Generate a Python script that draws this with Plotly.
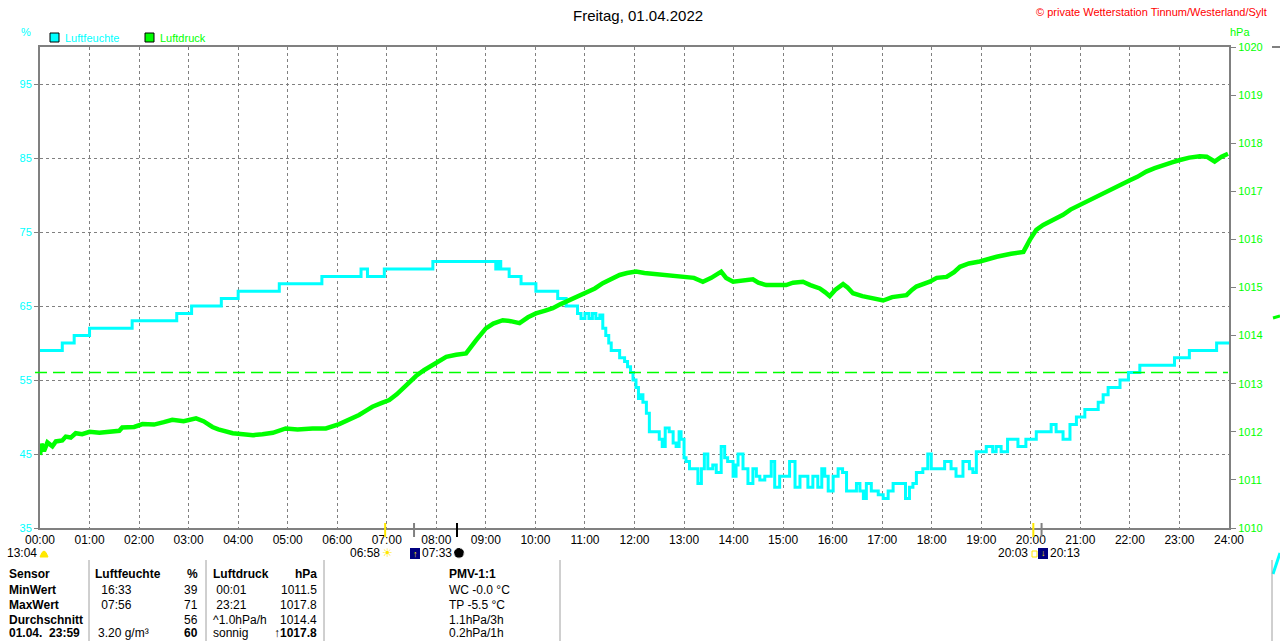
import plotly.graph_objects as go

# ---------------- data ----------------
hour_ticks = list(range(25))
hour_labels = [f"{h:02d}:00" for h in hour_ticks]

hum_ticks = [35, 45, 55, 65, 75, 85, 95]
pres_ticks = list(range(1010, 1021))

# relative humidity (%), step series
hum_t = [0.00, 0.45, 0.69, 1.00, 1.86, 2.76, 3.06, 3.66, 4.00, 4.83, 5.69, 6.48, 6.61, 6.95, 7.93,
         9.20, 9.25, 9.30, 9.47, 9.71, 10.01, 10.45, 10.62, 10.85, 10.92, 11.00, 11.08, 11.15, 11.22, 11.30,
         11.36, 11.42, 11.48, 11.53, 11.70, 11.80, 11.86, 11.92, 11.97, 12.03, 12.08, 12.12, 12.17, 12.24,
         12.30, 12.50, 12.56, 12.62, 12.70, 12.78, 12.84, 12.90, 12.94, 13.00, 13.04, 13.11, 13.18, 13.28,
         13.35, 13.41, 13.48, 13.58, 13.65, 13.75, 13.82, 13.88, 13.99, 14.05, 14.09, 14.19, 14.29, 14.39,
         14.46, 14.53, 14.63, 14.76, 14.83, 14.93, 15.03, 15.13, 15.24, 15.34, 15.44, 15.50, 15.60, 15.70,
         15.78, 15.84, 15.91, 16.01, 16.11, 16.20, 16.28, 16.48, 16.55, 16.62, 16.68, 16.78, 16.92, 17.02,
         17.12, 17.22, 17.39, 17.47, 17.55, 17.62, 17.69, 17.82, 17.92, 17.99, 18.16, 18.26, 18.39, 18.49,
         18.63, 18.76, 18.83, 18.90, 19.10, 19.23, 19.30, 19.40, 19.53, 19.74, 19.90, 20.11, 20.41, 20.51,
         20.65, 20.79, 20.92, 21.09, 21.36, 21.46, 21.56, 21.80, 21.97, 22.20, 22.90, 23.20, 23.75, 23.98, 24.0]
hum_v = [59, 60, 61, 62, 63, 64, 65, 66, 67, 68, 69, 70, 69, 70, 71,
         70, 71, 70, 69, 68, 67, 66, 65, 64, 63.3, 64, 63.3, 64, 63.3, 63.8,
         62, 61, 60, 59, 58, 57.5, 56.8, 56, 55, 54, 52.5, 53, 52, 50.5,
         48, 47, 46, 48.5, 48, 46.5, 46, 48, 47, 44.5, 44, 43, 43, 41,
         43, 45, 43, 43.5, 42.5, 46, 44.5, 44, 42, 43.5, 45, 43, 41, 43,
         42, 41.5, 42, 44, 40.5, 42, 42, 44, 40.5, 42, 42, 40.5, 42, 40.5,
         43, 42, 40, 42, 43, 42.5, 40, 41, 40, 39, 41, 40, 39.5, 39,
         40, 41, 41, 39, 40.5, 41, 42.5, 43, 45, 43, 43, 44, 43, 42,
         44, 43, 42.5, 45.3, 46, 45.3, 46, 45.3, 47, 46, 47, 48, 49, 48,
         47, 49, 50, 51, 52, 53, 54, 55, 56, 57, 58, 59, 60, 60, 60]

hum_avg = 56

# air pressure (hPa)
pres_t = [0.00, 0.03, 0.08, 0.15, 0.25, 0.32, 0.45, 0.52, 0.62, 0.72, 0.85, 1.00, 1.20, 1.40, 1.60, 1.66,
          1.90, 2.07, 2.30, 2.50, 2.67, 2.90, 3.15, 3.30, 3.48, 3.60, 3.89, 4.10, 4.30, 4.49, 4.70, 4.96,
          5.20, 5.50, 5.77, 6.04, 6.25, 6.44, 6.60, 6.71, 6.90, 7.05, 7.20, 7.32, 7.45, 7.59, 7.75, 7.86,
          8.00, 8.20, 8.40, 8.60, 8.80, 9.00, 9.15, 9.34, 9.50, 9.68, 9.85, 10.01, 10.20, 10.35, 10.50,
          10.69, 10.85, 11.02, 11.20, 11.36, 11.50, 11.70, 11.85, 12.03, 12.20, 12.37, 12.60, 12.80, 13.04,
          13.20, 13.38, 13.55, 13.75, 13.85, 13.99, 14.20, 14.39, 14.50, 14.66, 14.85, 15.06, 15.20, 15.40,
          15.55, 15.74, 15.85, 15.94, 16.05, 16.21, 16.30, 16.41, 16.60, 16.82, 17.02, 17.20, 17.49, 17.60,
          17.69, 17.96, 18.10, 18.30, 18.45, 18.57, 18.75, 18.97, 19.15, 19.31, 19.60, 19.85, 19.98, 20.11,
          20.25, 20.38, 20.50, 20.65, 20.80, 20.99, 21.15, 21.32, 21.50, 21.66, 21.85, 22.00, 22.15, 22.33,
          22.50, 22.67, 22.85, 23.01, 23.20, 23.41, 23.55, 23.71, 23.85, 23.98]
pres_v = [1011.52, 1011.75, 1011.60, 1011.78, 1011.70, 1011.80, 1011.82, 1011.90, 1011.88, 1011.97, 1011.95,
          1012.00, 1011.98, 1012.00, 1012.02, 1012.09, 1012.10, 1012.16, 1012.15, 1012.20, 1012.25, 1012.22,
          1012.28, 1012.22, 1012.10, 1012.05, 1011.97, 1011.95, 1011.93, 1011.95, 1011.98, 1012.07, 1012.05,
          1012.07, 1012.07, 1012.16, 1012.25, 1012.35, 1012.45, 1012.52, 1012.60, 1012.66, 1012.78, 1012.90,
          1013.02, 1013.16, 1013.28, 1013.35, 1013.45, 1013.56, 1013.60, 1013.63, 1013.90, 1014.15, 1014.25,
          1014.32, 1014.30, 1014.26, 1014.38, 1014.46, 1014.52, 1014.57, 1014.65, 1014.74, 1014.80, 1014.88,
          1014.98, 1015.09, 1015.17, 1015.26, 1015.30, 1015.33, 1015.30, 1015.28, 1015.25, 1015.24, 1015.22,
          1015.20, 1015.12, 1015.20, 1015.33, 1015.20, 1015.12, 1015.15, 1015.17, 1015.10, 1015.05, 1015.05,
          1015.05, 1015.10, 1015.12, 1015.05, 1014.98, 1014.90, 1014.82, 1014.95, 1015.07, 1015.00, 1014.88,
          1014.82, 1014.78, 1014.73, 1014.80, 1014.84, 1014.95, 1015.02, 1015.12, 1015.20, 1015.22, 1015.32,
          1015.43, 1015.50, 1015.54, 1015.60, 1015.64, 1015.70, 1015.74, 1015.99, 1016.20, 1016.30, 1016.37,
          1016.45, 1016.51, 1016.62, 1016.72, 1016.80, 1016.89, 1016.98, 1017.06, 1017.15, 1017.23, 1017.30,
          1017.41, 1017.48, 1017.55, 1017.60, 1017.65, 1017.70, 1017.73, 1017.72, 1017.62, 1017.72, 1017.78]

# sun / moon events below the time axis
event_times = ["06:58", "07:33", "08:25", "20:03", "20:13"]
event_colors = ["#FFE800", "#808080", "#000000", "#FFE800", "#808080"]

# summary table
col_sensor = ["<b>Sensor</b>", "<b>MinWert</b>", "<b>MaxWert</b>", "<b>Durchschnitt</b>", "<b>01.04.  23:59</b>"]
col_hum_time = ["<b>Luftfeuchte</b>", " 16:33", " 07:56", "", "3.20 g/m³"]
col_hum_val = ["<b>%</b>", "39", "71", "56", "<b>60</b>"]
col_pres_time = ["<b>Luftdruck</b>", " 00:01", " 23:21", "^1.0hPa/h", "sonnig"]
col_pres_val = ["<b>hPa</b>", "1011.5", "1017.8", "1014.4", "<b>↑1017.8</b>"]
col_pmv = ["<b>PMV-1:1</b>", "WC -0.0 °C", "TP -5.5 °C", "1.1hPa/3h", "0.2hPa/1h"]

# ---------------- figure ----------------
CYAN = "#00FFFF"
GREEN = "#00FF00"
GRAY = "#808080"
FONT = "Liberation Sans"

L, R, T, B = 40, 1229, 47, 528


def px(x):
    return (x - L) / (R - L)


def py(y):
    return (B - y) / (B - T)


def hm(s):
    h, m = s.split(":")
    return int(h) + int(m) / 60.0


fig = go.Figure()
fig.add_trace(go.Scatter(x=hum_t, y=hum_v, mode="lines", line=dict(color=CYAN, width=3, shape="hv"),
                         yaxis="y", showlegend=False, hoverinfo="skip"))
fig.add_trace(go.Scatter(x=pres_t, y=pres_v, mode="lines", line=dict(color=GREEN, width=4.5),
                         yaxis="y2", showlegend=False, hoverinfo="skip"))

shapes = []
annotations = []


def txt(x, y, s, color="black", size=12, xanchor="left"):
    annotations.append(dict(x=px(x), y=py(y), xref="paper", yref="paper", text=s, showarrow=False,
                            xanchor=xanchor, yanchor="middle", borderpad=0,
                            font=dict(family=FONT, size=size, color=color)))


# average line (dashed green)
shapes.append(dict(type="line", xref="paper", yref="y", x0=px(35), x1=px(1228), y0=hum_avg, y1=hum_avg,
                   line=dict(color=GREEN, width=1.5, dash="12px,6px"), layer="above"))

# event ticks
for t, c in zip(event_times, event_colors):
    shapes.append(dict(type="line", xref="x", yref="paper", x0=hm(t), x1=hm(t), y0=py(523), y1=py(537),
                       line=dict(color=c, width=2)))

# title / headers
txt(638, 15, "Freitag, 01.04.2022", size=15, xanchor="center")
txt(1268, 12, "© private Wetterstation Tinnum/Westerland/Sylt", color="#FF0000", size=11, xanchor="right")
txt(26, 32, "%", color=CYAN, size=11, xanchor="center")
txt(1240, 32, "hPa", color=GREEN, size=11, xanchor="center")

# legend
shapes.append(dict(type="rect", xref="paper", yref="paper", x0=px(50), x1=px(59), y0=py(33), y1=py(42),
                   fillcolor=CYAN, line=dict(color="black", width=1)))
txt(64, 38, "Luftfeuchte", color=CYAN, size=11)
shapes.append(dict(type="rect", xref="paper", yref="paper", x0=px(145), x1=px(154), y0=py(33), y1=py(42),
                   fillcolor=GREEN, line=dict(color="black", width=1)))
txt(159, 38, "Luftdruck", color=GREEN, size=11)

# event labels / icons
txt(38, 553, "13:04", size=12, xanchor="right")
shapes.append(dict(type="path", xref="paper", yref="paper",
                   path=f"M {px(40)},{py(557)} Q {px(44)},{py(545)} {px(48)},{py(557)} Z",
                   fillcolor="#FFE800", line=dict(color="#FFE800", width=1)))
txt(381, 553, "06:58", size=12, xanchor="right")
txt(387, 553, "☀", color="#FFE800", size=12, xanchor="center")
shapes.append(dict(type="rect", xref="paper", yref="paper", x0=px(410), x1=px(420), y0=py(548), y1=py(559),
                   fillcolor="#000080", line=dict(width=0)))
txt(415, 554, "↑", color="#FFE800", size=9, xanchor="center")
txt(421, 553, "07:33", size=12)
shapes.append(dict(type="circle", xref="paper", yref="paper", x0=px(454), x1=px(464), y0=py(548), y1=py(558),
                   fillcolor="black", line=dict(color="#C0C0C0", width=1, dash="dot")))
txt(1029, 553, "20:03", size=12, xanchor="right")
shapes.append(dict(type="rect", xref="paper", yref="paper", x0=px(1032), x1=px(1037), y0=py(551), y1=py(557),
                   fillcolor="white", line=dict(color="#FFE800", width=1)))
shapes.append(dict(type="rect", xref="paper", yref="paper", x0=px(1038), x1=px(1048), y0=py(548), y1=py(559),
                   fillcolor="#000080", line=dict(width=0)))
txt(1043, 553, "↓", color="#FFE800", size=9, xanchor="center")
txt(1049, 553, "20:13", size=12)

# table
row_y = [574, 590, 605, 620, 633]
for i, y in enumerate(row_y):
    txt(8, y, col_sensor[i], size=12)
    txt(94 if i == 0 else 97, y, col_hum_time[i], size=12)
    txt(199, y, col_hum_val[i], size=12, xanchor="right")
    txt(212, y, col_pres_time[i], size=12)
    txt(318, y, col_pres_val[i], size=12, xanchor="right")
    txt(448, y, col_pmv[i], size=12)
for sx in [89, 206, 324, 560]:
    shapes.append(dict(type="line", xref="paper", yref="paper", x0=px(sx), x1=px(sx), y0=py(560), y1=py(641),
                       line=dict(color="#A0A0A0", width=1)))

# fragments of neighbouring chart at right edge
shapes.append(dict(type="line", xref="paper", yref="paper", x0=px(1272), x1=px(1280), y0=py(47), y1=py(47),
                   line=dict(color=GRAY, width=2)))
shapes.append(dict(type="line", xref="paper", yref="paper", x0=px(1273), x1=px(1280), y0=py(318), y1=py(316),
                   line=dict(color=GREEN, width=3)))
shapes.append(dict(type="line", xref="paper", yref="paper", x0=px(1273), x1=px(1280), y0=py(574), y1=py(553),
                   line=dict(color=CYAN, width=3)))
shapes.append(dict(type="line", xref="paper", yref="paper", x0=px(1272), x1=px(1272), y0=py(560), y1=py(641),
                   line=dict(color="#A0A0A0", width=1)))

fig.update_layout(
    width=1280, height=641,
    margin=dict(l=L, r=1280 - R, t=T, b=641 - B, autoexpand=False),
    paper_bgcolor="white", plot_bgcolor="white",
    font=dict(family=FONT, size=12, color="black"),
    xaxis=dict(range=[0, 24], tickvals=hour_ticks, ticktext=hour_labels, showgrid=True,
               gridcolor=GRAY, griddash="3px,3px", gridwidth=1, showline=True, mirror=True,
               linecolor=GRAY, linewidth=2, ticks="", zeroline=False,
               tickfont=dict(family=FONT, size=12, color="black")),
    yaxis=dict(range=[35, 100], tickvals=hum_ticks, ticktext=[str(v) for v in hum_ticks],
               showgrid=True, gridcolor=GRAY, griddash="3px,3px", gridwidth=1, showline=True,
               linecolor=GRAY, linewidth=2, ticks="outside", ticklen=4, tickcolor=GRAY, zeroline=False,
               tickfont=dict(family=FONT, size=11, color=CYAN)),
    yaxis2=dict(range=[1010, 1020], tickvals=pres_ticks, ticktext=[str(v) for v in pres_ticks],
                overlaying="y", side="right", showgrid=False, showline=True, linecolor=GRAY, linewidth=2,
                ticks="outside", ticklen=5, tickcolor=GRAY, zeroline=False,
                tickfont=dict(family=FONT, size=11, color=GREEN)),
    shapes=shapes,
    annotations=annotations,
)

fig.write_html("out.html", post_script="document.body.style.margin='0';",
               config={"displayModeBar": False})
